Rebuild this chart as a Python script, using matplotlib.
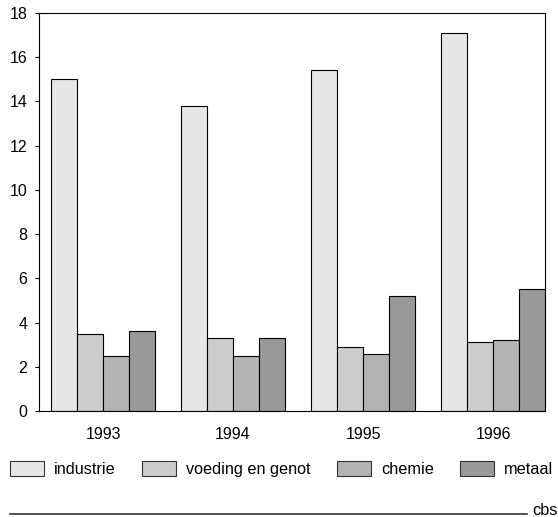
import numpy as np
import matplotlib
matplotlib.use("Agg")
import matplotlib.pyplot as plt
from matplotlib.patches import Patch
from matplotlib.lines import Line2D

plt.rcParams['font.family'] = ['Liberation Sans', 'DejaVu Sans']

years = ['1993', '1994', '1995', '1996']
series = ['industrie', 'voeding en genot', 'chemie', 'metaal']
industrie = [15.0, 13.8, 15.4, 17.1]
voeding = [3.5, 3.3, 2.9, 3.1]
chemie = [2.5, 2.5, 2.6, 3.2]
metaal = [3.6, 3.3, 5.2, 5.5]
colors = ['#e6e6e6', '#cccccc', '#b3b3b3', '#999999']

fig = plt.figure(figsize=(5.58, 5.17), dpi=100)
ax = fig.add_axes([39/558, 1-411/517, (545-39)/558, (411-13)/517])

x = np.arange(len(years))
w = 0.2
for k, vals in enumerate([industrie, voeding, chemie, metaal]):
    ax.bar(x - 0.4 + w*k, vals, width=w, align='edge', color=colors[k],
           edgecolor='black', linewidth=0.8, label=series[k])

ax.set_xlim(-0.4 - 12/129.7, 3.4)
ax.set_ylim(0, 18)
ax.set_yticks(range(0, 19, 2))
ax.set_xticks(x)
ax.set_xticklabels(years)
ax.tick_params(axis='x', length=0, pad=11.5, labelsize=11.5)
ax.tick_params(axis='y', length=3, width=0.8, pad=5.5, labelsize=11.5)
for s in ax.spines.values():
    s.set_linewidth(0.8)

handles = [Patch(facecolor=colors[k], edgecolor='#333333', linewidth=0.8) for k in range(4)]
fig.legend(handles, series, ncol=4, loc='center left',
           bbox_to_anchor=(10/558, 1-469/517), frameon=False,
           fontsize=11.7, handlelength=2.1, handleheight=1.0,
           handletextpad=0.62, columnspacing=1.6, borderpad=0, borderaxespad=0)

fig.add_artist(Line2D([10/558, 527/558], [1-514/517, 1-514/517],
                      transform=fig.transFigure, color='#333333', linewidth=1.2))
fig.text(532/558, 1-515/517, 'cbs', fontsize=11.7, ha='left', va='baseline')

fig.savefig('out.png', dpi=100)
